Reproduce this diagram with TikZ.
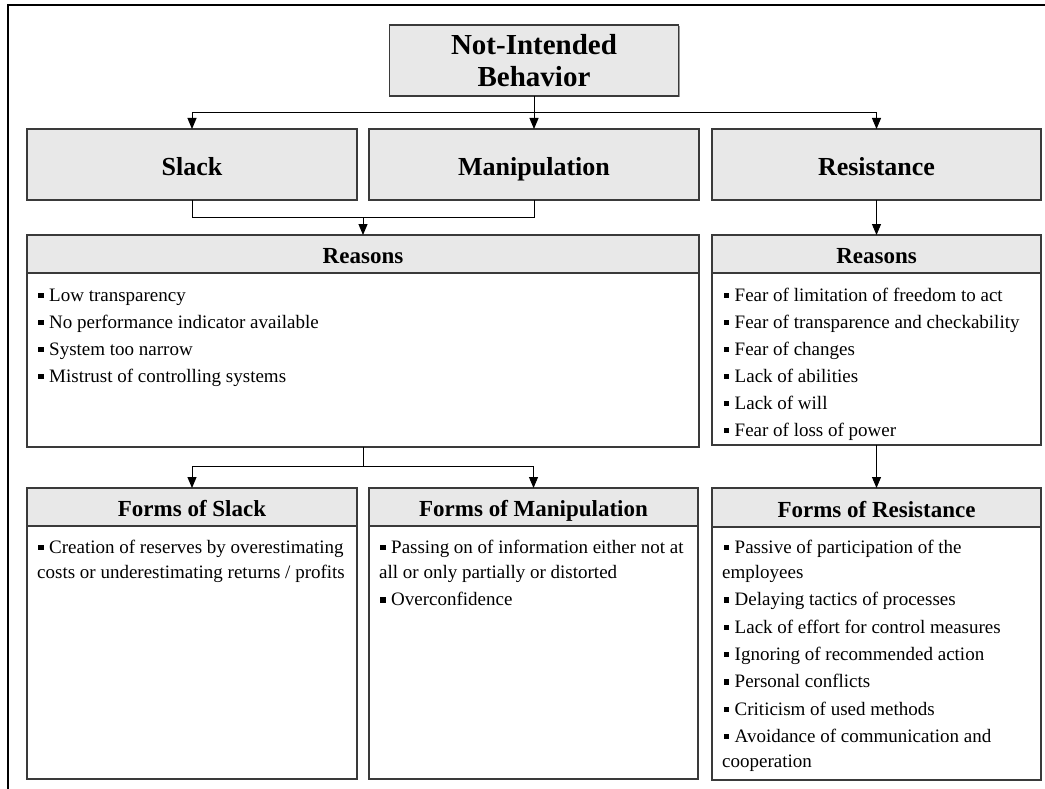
\documentclass[tikz,border=0pt]{standalone}
\usepackage{fontspec}
\setmainfont{Liberation Serif}
\usetikzlibrary{arrows.meta,shadows}
\definecolor{boxgray}{HTML}{E8E8E8}
\definecolor{edge}{HTML}{3A3A3A}

\tikzset{
  box/.style={draw=edge, line width=1.2pt, inner sep=0pt, outer sep=0pt,
    drop shadow={shadow xshift=1pt, shadow yshift=-1pt, fill=black!40, opacity=1}},
  graybox/.style={box, fill=boxgray},
  whitebox/.style={box, fill=white},
  titlefont/.style={font=\fontsize{29}{32}\selectfont\bfseries, align=center},
  headA/.style={font=\fontsize{26}{30}\selectfont\bfseries, text height=26pt, text depth=3pt},
  headB/.style={font=\fontsize{23}{27}\selectfont\bfseries, text height=22pt, text depth=3pt},
  bodytxt/.style={font=\fontsize{19}{25}\selectfont, anchor=base west, inner sep=0pt},
  conn/.style={line width=1pt, black},
  arr/.style={conn, -{Triangle[length=11pt,width=9pt]}},
  frameline/.style={line width=2pt, black},
}
% small square bullet
\newcommand{\sqb}{\rule[3pt]{5.5pt}{5.5pt}\hspace{5.5pt}}

\begin{document}
\begin{tikzpicture}[x=1pt,y=-1pt]
\useasboundingbox (0,0) rectangle (1045,789);
\draw[frameline] (7.8,789) -- (7.8,5) -- (1045,5);

% top level
\node[graybox, titlefont, minimum width=289, minimum height=71] (title) at (534,60.5) {Not-Intended\\Behavior};

% behaviour types
\node[graybox, headA, minimum width=330, minimum height=71] (slack) at (192,164.5) {Slack};
\node[graybox, headA, minimum width=330, minimum height=71] (manip) at (534,164.5) {Manipulation};
\node[graybox, headA, minimum width=329, minimum height=71] (res) at (876.5,164.5) {Resistance};

% reasons
\node[whitebox, minimum width=672, minimum height=212] (reasL) at (363,341) {};
\node[graybox, headB, minimum width=672, minimum height=38] (reasLh) at (363,254) {Reasons};
\node[whitebox, minimum width=329, minimum height=210] (reasR) at (876.5,340) {};
\node[graybox, headB, minimum width=329, minimum height=38] (reasRh) at (876.5,254) {Reasons};

% forms
\node[whitebox, minimum width=330, minimum height=291] (fslack) at (192,633.5) {};
\node[graybox, headB, minimum width=330, minimum height=38] (fslackh) at (192,507) {Forms of Slack};
\node[whitebox, minimum width=329, minimum height=291] (fmanip) at (533.5,633.5) {};
\node[graybox, headB, minimum width=329, minimum height=38] (fmaniph) at (533.5,507) {Forms of Manipulation};
\node[whitebox, minimum width=329, minimum height=292] (fres) at (876.5,634) {};
\node[graybox, headB, minimum width=329, minimum height=39] (fresh) at (876.5,507.5) {Forms of Resistance};

% reasons lists
\foreach [count=\i from 0] \t in {Low transparency, No performance indicator available, System too narrow, Mistrust of controlling systems}
  \node[bodytxt] (rl\i) at (38,{301+27*\i}) {\sqb\t};
\foreach [count=\i from 0] \t in {Fear of limitation of freedom to act, Fear of transparence and checkability, Fear of changes, Lack of abilities, Lack of will, Fear of loss of power}
  \node[bodytxt] (rr\i) at (723.5,{301+27*\i}) {\sqb\t};

% forms of slack
\node[bodytxt] (fs1) at (38,553) {\sqb Creation of reserves by overestimating};
\node[bodytxt] (fs2) at (37,578) {costs or underestimating returns / profits};

% forms of manipulation
\node[bodytxt] (fm1) at (380,553) {\sqb Passing on of information either not at};
\node[bodytxt] (fm2) at (379,578) {all or only partially or distorted};
\node[bodytxt] (fm3) at (380,605.5) {\sqb Overconfidence};

% forms of resistance
\node[bodytxt] (fr1) at (723.5,553) {\sqb Passive of participation of the};
\node[bodytxt] (fr2) at (722,578) {employees};
\node[bodytxt] (fr3) at (723.5,605.5) {\sqb Delaying tactics of processes};
\node[bodytxt] (fr4) at (723.5,633) {\sqb Lack of effort for control measures};
\node[bodytxt] (fr5) at (723.5,660) {\sqb Ignoring of recommended action};
\node[bodytxt] (fr6) at (723.5,687.5) {\sqb Personal conflicts};
\node[bodytxt] (fr7) at (723.5,715) {\sqb Criticism of used methods};
\node[bodytxt] (fr8) at (723.5,742) {\sqb Avoidance of communication and};
\node[bodytxt] (fr9) at (722,767) {cooperation};

% connectors
\coordinate (j1) at (534,112.5);
\draw[arr] (title.south) -- (manip.north);
\draw[arr] (j1) -| (slack.north);
\draw[arr] (j1) -| (res.north);

\coordinate (j2) at (363,217.5);
\draw[conn] (slack.south) |- (j2) -| (manip.south);
\draw[arr] (j2) -- (reasL.north);
\draw[arr] (res.south) -- (reasR.north);

\coordinate (j3) at (363,466.5);
\draw[conn] (reasL.south) -- (j3);
\draw[arr] (j3) -| (fslack.north);
\draw[arr] (j3) -| (fmanip.north);
\draw[arr] (reasR.south) -- (fres.north);
\end{tikzpicture}
\end{document}
